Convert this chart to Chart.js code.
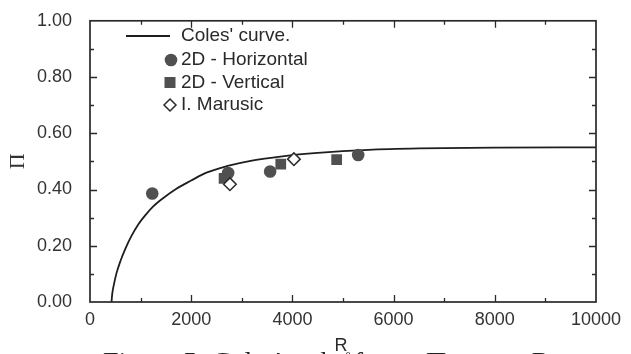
<!DOCTYPE html>
<html>
<head>
<meta charset="utf-8">
<script src="https://cdn.jsdelivr.net/npm/chart.js@4.4.1/dist/chart.umd.min.js"></script>
<style>
html, body { margin: 0; padding: 0; background: #fff; overflow: hidden; }
#wrap { position: relative; width: 631px; height: 354px; overflow: hidden; }
#caption { position: absolute; left: 103px; top: 348px; font: 28px 'Liberation Serif', serif; line-height: 28px; color: #222; white-space: nowrap; }
</style>
</head>
<body>
<div id="wrap">
<canvas id="c" width="631" height="354"></canvas>
<div id="caption">Figure 5: Coles' wake factor Π versus R<sub>θ</sub></div>
</div>
<script>
// values
const colesR  = [425, 440, 470, 520, 600, 700, 820, 950, 1100, 1250, 1450, 1700, 2000, 2300, 2700, 3200, 3800, 4500, 5500, 6500, 8000, 10000];
const colesPi = [0, 0.03, 0.06, 0.10, 0.145, 0.19, 0.235, 0.275, 0.31, 0.34, 0.37, 0.402, 0.432, 0.46, 0.483, 0.503, 0.518, 0.53, 0.541, 0.546, 0.549, 0.55];

const horizR  = [1230, 2730, 3560, 5300];
const horizPi = [0.386, 0.459, 0.464, 0.523];

const vertR  = [2650, 3770, 4875];
const vertPi = [0.44, 0.49, 0.506];

const marusicR  = [2765, 4030];
const marusicPi = [0.419, 0.508];

const xLabels = [0, 2000, 4000, 6000, 8000, 10000];
const yLabels = ['0.00', '0.20', '0.40', '0.60', '0.80', '1.00'];

const ink = '#2a2a2a';
const markFill = '#505050';
const pts = (xs, ys) => xs.map((x, i) => ({ x: x, y: ys[i] }));

// frame, inward ticks, legend and R_theta title
const decor = {
  id: 'decor',
  afterDatasetsDraw(chart) {
    const ctx = chart.ctx;
    const a = chart.chartArea;
    const xs = chart.scales.x, ys = chart.scales.y;
    ctx.save();
    ctx.strokeStyle = ink;
    ctx.lineWidth = 1.3;
    ctx.beginPath();
    xs.ticks.forEach(t => {
      if (t.value <= xs.min || t.value >= xs.max) return;
      const px = Math.round(xs.getPixelForValue(t.value)) + 0.5;
      const len = xLabels.includes(t.value) ? 7 : 4;
      ctx.moveTo(px, a.bottom); ctx.lineTo(px, a.bottom - len);
      ctx.moveTo(px, a.top); ctx.lineTo(px, a.top + len);
    });
    ys.ticks.forEach(t => {
      if (t.value <= ys.min || t.value >= ys.max) return;
      const py = Math.round(ys.getPixelForValue(t.value)) + 0.5;
      const len = Math.round(t.value * 10) % 2 === 0 ? 7 : 4;
      ctx.moveTo(a.left, py); ctx.lineTo(a.left + len, py);
      ctx.moveTo(a.right, py); ctx.lineTo(a.right - len, py);
    });
    ctx.stroke();
    ctx.lineWidth = 1.7;
    ctx.strokeRect(a.left, a.top, a.right - a.left, a.bottom - a.top);

    // legend
    const rows = [36, 60, 82.5, 105];
    const mx = 170, tx = 181;
    ctx.font = '19px "Liberation Sans", Arial, sans-serif';
    ctx.textBaseline = 'middle';
    ctx.fillStyle = ink;
    chart.data.datasets.forEach((ds, i) => {
      const y = rows[i];
      const st = ds.pointStyle;
      ctx.beginPath();
      if (ds.showLine) {
        ctx.lineWidth = 1.8;
        ctx.strokeStyle = ds.borderColor;
        ctx.moveTo(126, y); ctx.lineTo(mx, y);
        ctx.stroke();
      } else if (st === 'circle') {
        ctx.fillStyle = ds.backgroundColor;
        ctx.arc(mx + 1, y, 6.3, 0, Math.PI * 2);
        ctx.fill();
      } else if (st === 'rect') {
        ctx.fillStyle = ds.backgroundColor;
        ctx.fillRect(mx - 5.5, y - 5.5, 11, 11);
      } else if (st === 'rectRot') {
        ctx.lineWidth = 1.5;
        ctx.strokeStyle = ds.borderColor;
        ctx.fillStyle = '#fff';
        ctx.moveTo(mx - 6, y); ctx.lineTo(mx, y - 6); ctx.lineTo(mx + 6, y); ctx.lineTo(mx, y + 6);
        ctx.closePath();
        ctx.fill(); ctx.stroke();
      }
      ctx.fillStyle = ink;
      ctx.fillText(ds.label, tx, y);
    });

    // x axis title R with subscript theta
    const cx = (a.left + a.right) / 2 - 2;
    ctx.textBaseline = 'alphabetic';
    ctx.font = '18px "Liberation Sans", Arial, sans-serif';
    const w = ctx.measureText('R').width;
    ctx.fillText('R', cx - w / 2, 351);
    ctx.font = '11px "Liberation Serif", serif';
    ctx.fillText('θ', cx + w / 2 - 2, 359);
    ctx.restore();
  }
};

new Chart(document.getElementById('c'), {
  type: 'scatter',
  data: {
    datasets: [
      {
        label: "Coles' curve.",
        data: pts(colesR, colesPi),
        showLine: true,
        borderColor: '#1e1e1e',
        borderWidth: 1.8,
        pointRadius: 0,
        cubicInterpolationMode: 'monotone',
        order: 5
      },
      {
        label: '2D - Horizontal',
        data: pts(horizR, horizPi),
        pointStyle: 'circle',
        pointRadius: 6.3,
        backgroundColor: markFill,
        borderColor: markFill,
        borderWidth: 0,
        order: 2
      },
      {
        label: '2D - Vertical',
        data: pts(vertR, vertPi),
        pointStyle: 'rect',
        pointRadius: 7.6,
        backgroundColor: markFill,
        borderColor: markFill,
        borderWidth: 0,
        order: 3
      },
      {
        label: 'I. Marusic',
        data: pts(marusicR, marusicPi),
        pointStyle: 'rectRot',
        pointRadius: 6.3,
        backgroundColor: '#fff',
        borderColor: ink,
        borderWidth: 1.5,
        order: 1
      }
    ]
  },
  options: {
    responsive: false,
    animation: false,
    events: [],
    layout: { padding: { left: 0, top: 16, right: 35, bottom: 0 } },
    scales: {
      x: {
        type: 'linear',
        min: 0,
        max: 10000,
        afterFit: s => { s.height = 52; },
        grid: { display: false },
        border: { display: false },
        ticks: {
          stepSize: 1000,
          autoSkip: false,
          maxRotation: 0,
          padding: -1,
          color: '#333',
          font: { family: 'Liberation Sans', size: 18 },
          callback: v => xLabels.includes(v) ? String(v) : ''
        }
      },
      y: {
        min: 0,
        max: 1,
        afterFit: s => { s.width = 90; },
        grid: { display: false },
        border: { display: false },
        title: {
          display: true,
          text: 'Π',
          color: '#333',
          font: { family: 'Liberation Serif', size: 22 },
          padding: { top: 5, bottom: 0 }
        },
        ticks: {
          stepSize: 0.1,
          autoSkip: false,
          padding: 10,
          color: '#333',
          font: { family: 'Liberation Sans', size: 18 },
          callback: v => {
            const k = Math.round(v * 10);
            return k % 2 === 0 ? yLabels[k / 2] : '';
          }
        }
      }
    },
    plugins: {
      legend: { display: false },
      tooltip: { enabled: false }
    }
  },
  plugins: [decor]
});
</script>
</body>
</html>
